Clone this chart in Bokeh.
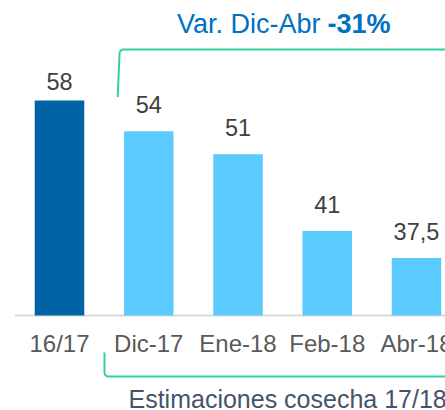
import numpy as np
from bokeh.plotting import figure
from bokeh.models import ColumnDataSource, Range1d
from bokeh.core.properties import value
from bokeh.embed import file_html
from bokeh.resources import INLINE

# ---- data ----
categories = ["16/17", "Dic-17", "Ene-18", "Feb-18", "Abr-18"]
harvest = [58, 54, 51, 41, 37.5]
harvest_labels = ["58", "54", "51", "41", "37,5"]
kind = ["actual", "estimate", "estimate", "estimate", "estimate"]
title_regular = "Var. Dic-Abr"
title_bold = "-31%"
bottom_note = "Estimaciones cosecha 17/18"
y_base = 30

FONT = value("Liberation Sans")
DARK = "#0063A6"
LIGHT = "#5BCBFF"
GREEN = "#2FD09F"

def shift(fs):
    # compensate renderer baseline placement
    return 0.4 * fs

xs = list(range(len(categories)))
colors = [DARK if k == "actual" else LIGHT for k in kind]

src_all = ColumnDataSource(dict(x=xs, v=harvest, lab=harvest_labels, cat=categories, color=colors))
act_idx = [i for i, k in enumerate(kind) if k == "actual"]
est_idx = [i for i, k in enumerate(kind) if k != "actual"]
src_act = ColumnDataSource(dict(x=[xs[i] for i in act_idx], v=[harvest[i] for i in act_idx],
                                lab=[harvest_labels[i] for i in act_idx]))
src_est = ColumnDataSource(dict(x=[xs[i] for i in est_idx], v=[harvest[i] for i in est_idx],
                                lab=[harvest_labels[i] for i in est_idx]))

Y_TOP = 71.04
p = figure(width=445, height=410, output_backend="svg", toolbar_location=None,
           x_axis_type=None, y_axis_type=None, min_border=0,
           x_range=Range1d(-0.661, 4.325), y_range=Range1d(17.62, Y_TOP))
p.grid.visible = False
p.outline_line_color = None
p.background_fill_color = "white"
p.border_fill_color = "white"

# baseline (axis line)
p.segment(x0=[-0.504], y0=[y_base], x1=[4.6], y1=[y_base], line_color="#D9D9D9", line_width=2)

# bars
p.vbar(x="x", top="v", bottom=y_base, width=0.555, fill_color="color", line_color=None, source=src_all)

# value labels
VFS = 23.5
p.text(x="x", y="v", text="lab", source=src_act, text_font=FONT, text_font_size=f"{VFS}px",
       text_align="center", text_baseline="alphabetic", y_offset=-10 - shift(VFS), text_color="#404040")
p.text(x="x", y="v", text="lab", source=src_est, text_font=FONT, text_font_size=f"{VFS}px",
       text_align="center", text_baseline="alphabetic", y_offset=-17 - shift(VFS), text_color="#404040")

# category labels
CFS = 24
p.text(x="x", y=y_base, text="cat", source=src_all, text_font=FONT, text_font_size=f"{CFS}px",
       text_align="center", text_baseline="alphabetic", y_offset=38 - shift(CFS), text_color="#595959")

# brackets
rx, ry = 4 / 89.25, 4 / 7.675

def bracket(xv_end, xv, y_end, y_h, up):
    if up:
        t = np.linspace(np.pi, np.pi / 2, 8)
        cy = y_h - ry
    else:
        t = np.linspace(np.pi, 3 * np.pi / 2, 8)
        cy = y_h + ry
    ax = xv + rx + rx * np.cos(t)
    ay = cy + ry * np.sin(t)
    X = [xv_end] + list(ax) + [4.6]
    Y = [y_end] + list(ay) + [y_h]
    return X, Y

bx, by = bracket(0.652, 0.673, 58.47, 64.66, True)
p.line(bx, by, line_color=GREEN, line_width=2)
bx2, by2 = bracket(0.504, 0.504, 25.18, 22.05, False)
p.line(bx2, by2, line_color=GREEN, line_width=2)

# title
TFS = 27
p.text(x=[2.924], y=[Y_TOP], text=[title_regular], text_font=FONT, text_font_size=f"{TFS}px",
       text_align="right", text_baseline="alphabetic", y_offset=34 - shift(TFS), text_color="#0070C0")
p.text(x=[3.003], y=[Y_TOP], text=[title_bold], text_font=FONT, text_font_size=f"{TFS}px",
       text_font_style="bold", text_align="left", text_baseline="alphabetic", y_offset=34 - shift(TFS),
       text_color="#0070C0")

# bottom note
BFS = 25
p.text(x=[0.773], y=[17.62], text=[bottom_note], text_font=FONT, text_font_size=f"{BFS}px",
       text_align="left", text_baseline="alphabetic", y_offset=-2 - shift(BFS), text_color="#44546A")

open("out.html", "w").write(file_html(p, INLINE))
